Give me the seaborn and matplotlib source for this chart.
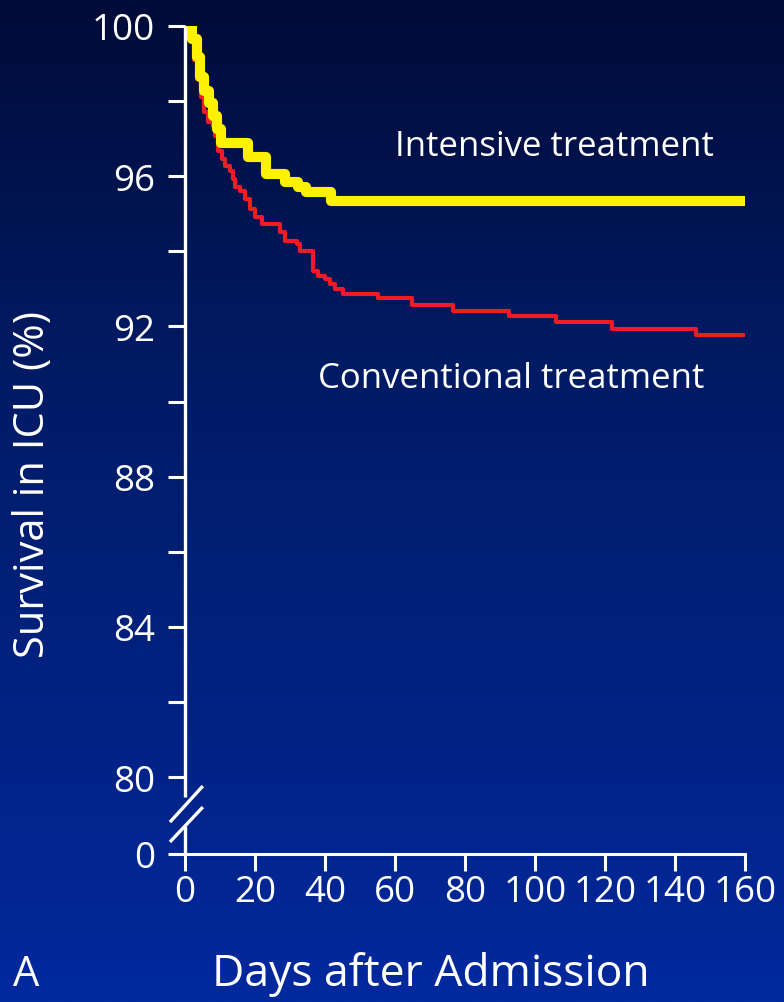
import numpy as np
import pandas as pd
import matplotlib
matplotlib.use("Agg")
import matplotlib.pyplot as plt
import seaborn as sns

# Datos (días, supervivencia %)
intensive_days = [0, 2.0, 3.4, 4.3, 5.4, 6.9, 8.0, 9.1, 10.3, 18.0, 23.0, 28.6, 32.3, 34.6, 41.7, 160]
intensive_surv = [100, 99.65, 99.17, 98.64, 98.27, 97.95, 97.6, 97.26, 96.88, 96.52, 96.06, 95.85,
                  95.71, 95.57, 95.35, 95.35]

conventional_days = [0, 1.5, 2.5, 3.5, 4.5, 5.5, 6.5, 8.0, 8.6, 9.4, 10.6, 11.4, 12.9, 13.7, 14.3,
                     15.7, 17.1, 18.6, 20.0, 22.0, 27.1, 28.6, 32.0, 32.9, 36.6, 38.0, 40.0, 41.4,
                     42.9, 45.1, 55.1, 64.9, 76.6, 92.6, 106.0, 122.0, 146.0, 160]
conventional_surv = [100, 99.6, 99.1, 98.6, 98.1, 97.7, 97.45, 97.34, 97.07, 96.67, 96.46, 96.27, 96.14,
                     95.93, 95.71, 95.61, 95.39, 95.13, 94.91, 94.73, 94.51, 94.27, 94.19, 94.01, 93.48,
                     93.34, 93.26, 93.13, 93.0, 92.86, 92.76, 92.57, 92.41, 92.28, 92.12, 91.93, 91.77, 91.77]

y_ticks = [80, 82, 84, 86, 88, 90, 92, 94, 96, 98, 100]
y_labels = ['80', '', '84', '', '88', '', '92', '', '96', '', '100']
x_ticks = [0, 20, 40, 60, 80, 100, 120, 140, 160]

Y_BOTTOM = 77.95  # posición del "0" tras el corte del eje

sns.set_style("ticks")
plt.rcParams['font.family'] = ['Open Sans', 'DejaVu Sans']
plt.rcParams['axes.linewidth'] = 2.2

fig = plt.figure(figsize=(7.84, 10.03), dpi=100)

# Fondo degradado azul
bg = fig.add_axes([0, 0, 1, 1], zorder=0)
t = np.linspace(0, 1, 512)
stops = [0, 0.35, 1]
r = np.interp(t, stops, [0, 0, 2])
g = np.interp(t, stops, [11, 26, 41])
b = np.interp(t, stops, [56, 98, 158])
grad = np.stack([r, g, b], axis=1)[:, None, :] / 255.0
bg.imshow(grad, aspect='auto', extent=[0, 1, 0, 1])
bg.axis('off')

ax = fig.add_axes([185 / 784, 148 / 1003, 560 / 784, 828 / 1003], zorder=1)
ax.set_facecolor('none')

conv = pd.DataFrame({'day': conventional_days, 'surv': conventional_surv})
inten = pd.DataFrame({'day': intensive_days, 'surv': intensive_surv})
sns.lineplot(data=conv, x='day', y='surv', ax=ax, color='#ee1c25', linewidth=3.0,
             drawstyle='steps-post', zorder=3)
sns.lineplot(data=inten, x='day', y='surv', ax=ax, color='#fff200', linewidth=7.3,
             drawstyle='steps-post', zorder=4)

ax.set_xlim(0, 160)
ax.set_ylim(Y_BOTTOM, 100)
ax.set_xticks(x_ticks)
ax.set_xticklabels([str(v) for v in x_ticks])
ax.set_yticks([Y_BOTTOM] + y_ticks)
ax.set_yticklabels(['0'] + y_labels)
ax.tick_params(axis='both', colors='white', labelcolor='white', labelsize=26.5,
               length=12.5, width=2.2)
ax.tick_params(axis='y', pad=9)
ax.tick_params(axis='x', pad=2)
ax.set_xlabel('')
ax.set_ylabel('')

for side in ['top', 'right', 'left']:
    ax.spines[side].set_visible(False)
ax.spines['bottom'].set_color('white')

# Eje Y con corte
kw = dict(color='white', linewidth=2.4, clip_on=False, solid_capstyle='butt', zorder=5)
ax.plot([0, 0], [100, 79.47], **kw)
ax.plot([0, 0], [78.70, Y_BOTTOM], **kw)
ax.plot([-4.3, 5.1], [78.80, 79.76], **kw)
ax.plot([-4.3, 5.1], [78.27, 79.20], **kw)

ax.text(60.0, 96.80, 'Intensive treatment', color='white', fontsize=25, va='center')
ax.text(38.0, 90.63, 'Conventional treatment', color='white', fontsize=25, va='center')

fig.text(431 / 784, 1 - 975 / 1003, 'Days after Admission', color='white',
         fontsize=32, ha='center', va='center')
fig.text(26 / 784, 1 - 975 / 1003, 'A', color='white', fontsize=30, ha='center', va='center')
fig.text(33 / 784, 1 - 485 / 1003, 'Survival in ICU (%)', color='white', fontsize=30,
         rotation=90, ha='center', va='center')

fig.savefig('out.png', dpi=100)
